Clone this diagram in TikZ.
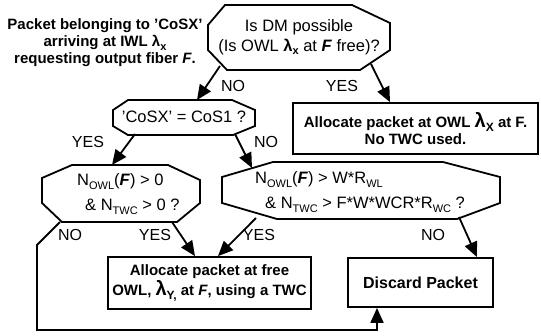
\documentclass[tikz,border=0pt]{standalone}
\usepackage{fontspec}
\setmainfont{Liberation Sans}
\usetikzlibrary{arrows.meta}
\newcommand{\sbx}[1]{\raisebox{-0.45ex}{\fontsize{11}{11}\selectfont #1}}
\newcommand{\sbb}[1]{\raisebox{-0.5ex}{\fontsize{12}{12}\selectfont #1}}
\begin{document}
\begin{tikzpicture}[x=1pt,y=-1pt,
  shapeline/.style={line width=1.8pt, line join=miter},
  conn/.style={-{Triangle[length=15pt,width=13pt]}, line width=1.8pt, line join=miter},
  lbl/.style={font=\fontsize{16}{16}\selectfont, inner sep=0pt},
  reg/.style={font=\fontsize{16.5}{20}\selectfont, align=center, inner sep=0pt},
  regl/.style={font=\fontsize{16.5}{25}\selectfont, align=left, inner sep=0pt, anchor=west},
  bld/.style={font=\bfseries\fontsize{15}{17}\selectfont, align=center, inner sep=0pt},
  boxx/.style={draw, line width=1.8pt, bld}]
\useasboundingbox (0,0) rectangle (541,335);

% intro text
\node[bld] (intro) at (105,43) {Packet belonging to 'CoSX'\\arriving at IWL λ\sbx{x}\\requesting output fiber \textit{F}.};

% DM decision
\draw[shapeline] (225,5) -- (352,5) -- (390,23) -- (390,50) -- (360,70) -- (227,70) -- (208,50) -- (208,25) -- cycle;
\node[reg] (dm) at (299,37) {Is DM possible\\(Is OWL \textbf{λ\sbx{x}} at \textbf{\textit{F}} free)?};

% CoS decision
\draw[shapeline] (128,100) -- (232,100) -- (255,110) -- (255,126) -- (233,135) -- (128,135) -- (113,126) -- (113,110) -- cycle;
\node[reg] (cos) at (184,117) {'CoSX' = CoS1 ?};

% left decision
\draw[shapeline] (72,165) -- (168,165) -- (200,180) -- (200,203) -- (177,222) -- (62,222) -- (42,203) -- (42,178) -- cycle;
\node[regl] (lq) at (77,194) {N\sbx{OWL}(\textbf{\textit{F}}) > 0\\\hspace*{8pt}\& N\sbx{TWC} > 0 ?};

% right decision
\draw[shapeline] (273,162) -- (443,162) -- (500,177) -- (500,203) -- (457,219) -- (277,219) -- (222,203) -- (222,177) -- cycle;
\node[regl] (rq) at (255,192) {N\sbx{OWL}(\textbf{\textit{F}}) > W*R\sbx{WL}\\\hspace*{10pt}\& N\sbx{TWC} > F*W*WCR*R\sbx{WC} ?};

% result boxes
\node[boxx, minimum width=245pt, minimum height=51pt] (box1) at (415.5,128.5) {Allocate packet at OWL {\fontsize{20}{20}\selectfont λ}\sbb{X} at F.\\No TWC used.};
\node[boxx, minimum width=203pt, minimum height=52pt] (box2) at (209.5,283) {Allocate packet at free\\OWL, {\fontsize{20}{20}\selectfont λ}\sbb{Y,} at \textit{F}, using a TWC};
\node[boxx, minimum width=145pt, minimum height=49pt, font=\bfseries\fontsize{16}{17}\selectfont] (disc) at (420.5,282.5) {Discard Packet};

% connector end points
\coordinate (dmno) at (220,66);
\coordinate (dmyes) at (371,64);
\coordinate (cosyes) at (135,134);
\coordinate (cosno) at (235,134);
\coordinate (lno) at (60,222);
\coordinate (lyes) at (172,222);
\coordinate (ryes) at (256,218);
\coordinate (rno) at (459,217);
\coordinate (cosin) at (197,100);
\coordinate (lin) at (112,165);
\coordinate (rin) at (252,168);

% connectors
\draw[conn] (dmno) -- (cosin);
\draw[conn] (dmyes) -- (box1.north -| 390,0);
\draw[conn] (cosyes) -- (lin);
\draw[conn] (cosno) -- (rin);
\draw[conn] (lyes) -- (box2.north -| 195,0);
\draw[conn] (ryes) -- (box2.north -| 218,0);
\draw[conn] (rno) -- (disc.north -| 477,0);
\draw[conn] (lno) -- (37,245) -- (37,330) -- (377,330) -- (disc.south -| 377,0);

% labels
\node[lbl] (l1) at (233,86) {NO};
\node[lbl] (l2) at (342,86) {YES};
\node[lbl] (l3) at (88,142) {YES};
\node[lbl] (l4) at (266,142) {NO};
\node[lbl] (l5) at (70,235) {NO};
\node[lbl] (l6) at (155,235) {YES};
\node[lbl] (l7) at (259,235) {YES};
\node[lbl] (l8) at (433,235) {NO};
\end{tikzpicture}
\end{document}
